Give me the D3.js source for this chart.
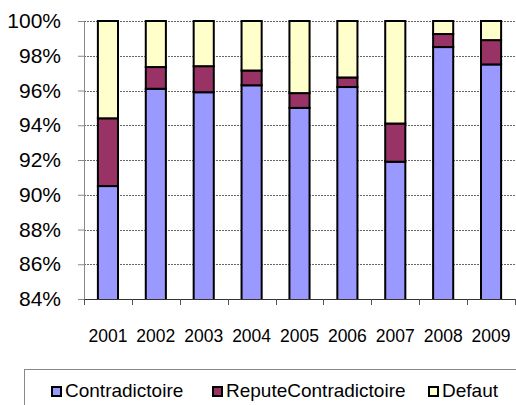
<!DOCTYPE html>
<html>
<head>
<meta charset="utf-8">
<script src="https://cdn.jsdelivr.net/npm/d3@7"></script>
<style>
  body { margin: 0; background: #fff; }
  svg { display: block; font-family: "Liberation Sans", Arial, sans-serif; }
</style>
</head>
<body>
<div id="graphic"></div>
<script>
// values (share of each year, in %)
var years = ["2001", "2002", "2003", "2004", "2005", "2006", "2007", "2008", "2009"];
var contradictoire = [90.5, 96.1, 95.9, 96.3, 95.0, 96.2, 91.9, 98.5, 97.5];
var reputeContradictoire = [3.9, 1.25, 1.5, 0.85, 0.85, 0.55, 2.2, 0.75, 1.4];
var defaut = [5.6, 2.65, 2.6, 2.85, 4.15, 3.25, 5.9, 0.75, 1.1];
var seriesNames = ["Contradictoire", "ReputeContradictoire", "Defaut"];
var seriesColors = ["#9999ff", "#993366", "#ffffcc"];
var yTicks = [84, 86, 88, 90, 92, 94, 96, 98, 100];

var width = 516, height = 405;
var plotLeft = 84, plotRight = 515, plotTop = 21, plotBottom = 299;

var rows = years.map(function (y, i) {
  return { year: y, Contradictoire: contradictoire[i], ReputeContradictoire: reputeContradictoire[i], Defaut: defaut[i] };
});

var svg = d3.select("#graphic").append("svg")
  .attr("width", width)
  .attr("height", height);

var x = d3.scaleBand()
  .domain(years)
  .range([plotLeft, plotRight])
  .paddingInner(0.58)
  .paddingOuter(0.29);

var y = d3.scaleLinear()
  .domain([84, 100])
  .range([plotBottom, plotTop]);

// gridlines
svg.append("g")
  .selectAll("line")
  .data(yTicks.filter(function (t) { return t > 84; }))
  .enter().append("line")
  .attr("x1", plotLeft).attr("x2", width)
  .attr("y1", function (d) { return Math.round(y(d)) + 0.5; })
  .attr("y2", function (d) { return Math.round(y(d)) + 0.5; })
  .attr("stroke", "#666")
  .attr("stroke-dasharray", "2,1");

svg.append("clipPath").attr("id", "plot")
  .append("rect").attr("x", plotLeft).attr("y", plotTop - 2).attr("width", width - plotLeft).attr("height", plotBottom - plotTop + 2);

var stack = d3.stack().keys(seriesNames)(rows);

var layers = svg.append("g").attr("clip-path", "url(#plot)")
  .selectAll("g")
  .data(stack)
  .enter().append("g")
  .attr("fill", function (d, i) { return seriesColors[i]; });

layers.selectAll("rect")
  .data(function (d) { return d; })
  .enter().append("rect")
  .attr("x", function (d) { return x(d.data.year); })
  .attr("width", x.bandwidth())
  .attr("y", function (d) { return y(d[1]); })
  .attr("height", function (d) { return y(Math.max(d[0], 83)) - y(d[1]); })
  .attr("stroke", "#000")
  .attr("stroke-width", 2);

// y axis
var yAxis = svg.append("g")
  .attr("transform", "translate(" + plotLeft + ",0)")
  .call(d3.axisLeft(y).tickValues(yTicks).tickSize(6).tickPadding(17)
    .tickFormat(function (d) { return d + "%"; }));
yAxis.select(".domain").attr("stroke", "#888");
yAxis.selectAll(".tick line").attr("stroke", "#888");
yAxis.selectAll("text")
  .attr("font-size", "21px")
  .attr("font-family", "Liberation Sans, Arial, sans-serif")
  .attr("fill", "#000");

// x axis line and ticks at band boundaries
svg.append("line")
  .attr("x1", plotLeft).attr("x2", width)
  .attr("y1", plotBottom + 0.5).attr("y2", plotBottom + 0.5)
  .attr("stroke", "#333");
svg.append("g")
  .selectAll("line")
  .data(d3.range(years.length + 1))
  .enter().append("line")
  .attr("x1", function (i) { return Math.round(plotLeft + i * x.step()) + 0.5; })
  .attr("x2", function (i) { return Math.round(plotLeft + i * x.step()) + 0.5; })
  .attr("y1", plotBottom).attr("y2", plotBottom + 6)
  .attr("stroke", "#555");

svg.append("g")
  .selectAll("text")
  .data(years)
  .enter().append("text")
  .attr("x", function (d) { return x(d) + x.bandwidth() / 2; })
  .attr("y", 342)
  .attr("text-anchor", "middle")
  .attr("font-size", "17.5px")
  .text(function (d) { return d; });

// legend
svg.append("rect")
  .attr("x", 24.5).attr("y", 369.5)
  .attr("width", 520).attr("height", 60)
  .attr("fill", "none")
  .attr("stroke", "#888");

var legendX = [52, 213, 429];
var legend = svg.append("g")
  .selectAll("g")
  .data(seriesNames)
  .enter().append("g")
  .attr("transform", function (d, i) { return "translate(" + legendX[i] + ",387)"; });

legend.append("rect")
  .attr("width", 9).attr("height", 9)
  .attr("fill", function (d, i) { return seriesColors[i]; })
  .attr("stroke", "#000")
  .attr("stroke-width", 2);

legend.append("text")
  .attr("x", 13)
  .attr("y", 10)
  .attr("font-size", "19px")
  .text(function (d) { return d; });
</script>
</body>
</html>
